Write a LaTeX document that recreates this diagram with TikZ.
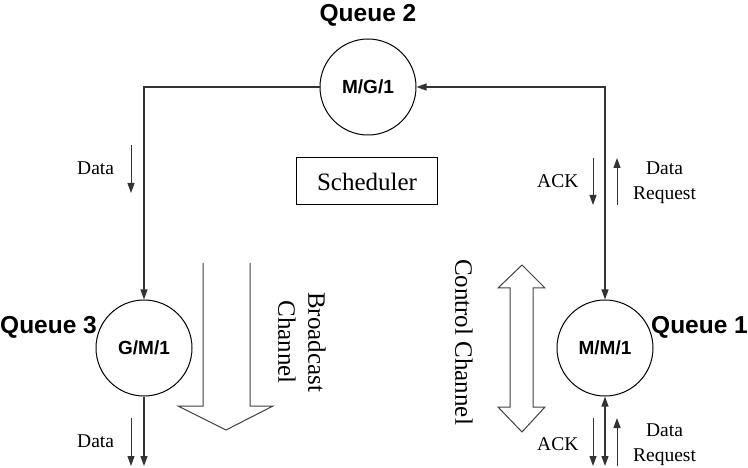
\documentclass[tikz,border=0pt]{standalone}
\usepackage{fontspec}
\setmainfont{Liberation Serif}
\newfontfamily\labelfont{Liberation Sans}
\usetikzlibrary{arrows.meta, positioning}

\begin{document}
\begin{tikzpicture}[
    x=1pt, y=-1pt,
    queue/.style={circle, draw, line width=1pt, minimum size=96pt, inner sep=0pt, font=\labelfont\bfseries\fontsize{19}{19}\selectfont},
    qlabel/.style={inner sep=0pt, font=\labelfont\bfseries\fontsize{24.5}{24.5}\selectfont},
    small/.style={inner sep=0pt, align=center, font=\fontsize{19.5}{25}\selectfont},
    chan/.style={inner sep=0pt, align=center, rotate=-90, font=\fontsize{25}{30}\selectfont},
    link/.style={line width=1.2pt, draw=black!80},
    flow/.style={line width=1pt, draw=black!80},
    tip/.style={-{Triangle[length=10pt,width=7pt]}},
    twotip/.style={{Triangle[length=10pt,width=7pt]}-{Triangle[length=10pt,width=7pt]}},
    bigarrow/.style={line width=1pt, draw=black!75, line join=miter}
]
\useasboundingbox (0,0) rectangle (748,468);

% queues
\node[queue] (q2) at (368,87) {M/G/1};
\node[queue] (q3) at (144,348) {G/M/1};
\node[queue] (q1) at (605,348) {M/M/1};

\node[qlabel, anchor=base] (q2lab) at (368,22) {Queue 2};
\node[qlabel, anchor=base west] (q3lab) at (0,333) {Queue 3};
\node[qlabel, anchor=base west] (q1lab) at (651,333) {Queue 1};

\node[draw, line width=1pt, minimum width=141pt, minimum height=47pt, font=\fontsize{25}{25}\selectfont] (sched) at (367,181.5) {Scheduler};

% main links
\coordinate (q3out) at (144,466);
\coordinate (q1out) at (605,466);
\draw[link, tip] (q2.west) -| (q3.north);
\draw[link, twotip] (q2.east) -| (q1.north);
\draw[link, tip] (q3.south) -- (q3out);
\draw[link, twotip] (q1.south) -- (q1out);

% flow arrows
\coordinate (dataA1) at (131,145);  \coordinate (dataA2) at (131,193);
\coordinate (ackA1) at (593,158);   \coordinate (ackA2) at (593,205);
\coordinate (reqA1) at (617,205);   \coordinate (reqA2) at (617,158);
\coordinate (dataB1) at (131,418);  \coordinate (dataB2) at (131,466);
\coordinate (ackB1) at (593,418);   \coordinate (ackB2) at (593,466);
\coordinate (reqB1) at (617,466);   \coordinate (reqB2) at (617,418);
\draw[flow, tip] (dataA1) -- (dataA2);
\draw[flow, tip] (ackA1) -- (ackA2);
\draw[flow, tip] (reqA1) -- (reqA2);
\draw[flow, tip] (dataB1) -- (dataB2);
\draw[flow, tip] (ackB1) -- (ackB2);
\draw[flow, tip] (reqB1) -- (reqB2);

\node[small, anchor=base west] (dataA) at (77,175) {Data};
\node[small, anchor=base west] (ackA) at (537,188) {ACK};
\node[small] (reqA) at (664.5,183) {Data\\Request};
\node[small, anchor=base west] (dataB) at (77,447) {Data};
\node[small, anchor=base west] (ackB) at (537,450) {ACK};
\node[small] (reqB) at (664.5,445) {Data\\Request};

% channels
\draw[bigarrow] (203,263) -- (203,406) -- (178,406) -- (226,430) -- (273,406) -- (250,406) -- (250,263);
\node[chan] (bcast) at (302,342) {Broadcast\\Channel};

\draw[bigarrow] (522,265) -- (545,288) -- (533,288) -- (533,407) -- (545,407) -- (522,432)
    -- (498,407) -- (510,407) -- (510,288) -- (498,288) -- cycle;
\node[chan] (ctrl) at (464,342) {Control Channel};

\end{tikzpicture}
\end{document}
